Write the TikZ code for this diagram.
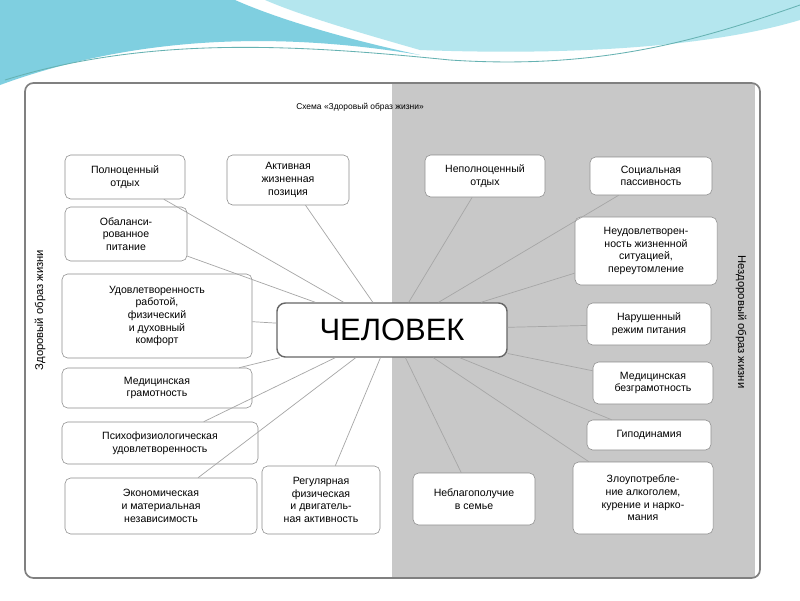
\documentclass[tikz,border=0pt]{standalone}
\usepackage{fontspec}
\setmainfont{Liberation Sans}
\definecolor{wave}{HTML}{7FCFE0}
\definecolor{wavelight}{HTML}{B4E6EE}
\definecolor{panelgray}{HTML}{C8C8C8}
\tikzset{
  box/.style={draw=black!45, fill=white, rounded corners=4pt, align=center, font=\fontsize{7.5}{9}\selectfont, inner sep=2pt},
  link/.style={draw=black!35, line width=0.5pt}
}
\begin{document}
\begin{tikzpicture}[x=0.025cm, y=-0.025cm]
\useasboundingbox (0,0) rectangle (800,600);
\fill[white] (0,0) rectangle (800,600);
% waves
\fill[wave] (0,0) -- (235,0) .. controls (280,20) and (350,40) .. (420,55) .. controls (300,35) and (150,30) .. (0,85) -- cycle;
\fill[wavelight] (265,0) -- (800,0) -- (800,20) .. controls (700,50) and (550,55) .. (420,50) .. controls (350,30) and (300,15) .. (265,0) -- cycle;
\draw[teal!60, line width=0.6pt] (5,80) .. controls (150,35) and (300,45) .. (450,60) .. controls (600,70) and (700,40) .. (800,5);
% panel
\fill[panelgray] (392,83) rectangle (755,578);
\draw[black!50, line width=1.2pt, rounded corners=6pt] (25,83) rectangle (760,578);
\node[font=\fontsize{6}{7}\selectfont] (title) at (360,107) {Схема «Здоровый образ жизни»};
\node[rotate=90, font=\fontsize{8}{9}\selectfont] (healthy) at (40,310) {Здоровый образ жизни};
\node[rotate=-90, font=\fontsize{8}{9}\selectfont] (unhealthy) at (741,322) {Нездоровый образ жизни};
% centre
\node[box, rounded corners=6pt, line width=1pt, draw=black!60, minimum width=5.75cm, minimum height=1.35cm, font=\fontsize{22}{24}\selectfont] (man) at (392,330) {ЧЕЛОВЕК};
% left side
\node[box, minimum width=3cm, minimum height=1.1cm] (rest) at (125,177) {Полноценный\\отдых};
\node[box, minimum width=3.05cm, minimum height=1.25cm] (active) at (288,180) {Активная\\жизненная\\позиция};
\node[box, minimum width=3.05cm, minimum height=1.35cm] (food) at (126,234) {Обаланси-\\рованное\\питание};
\node[box, minimum width=4.75cm, minimum height=2.1cm] (comfort) at (157,316) {Удовлетворенность\\работой,\\физический\\и духовный\\комфорт};
\node[box, minimum width=4.75cm, minimum height=1cm] (medic) at (157,388) {Медицинская\\грамотность};
\node[box, minimum width=4.9cm, minimum height=1.05cm] (psycho) at (160,443) {Психофизиологическая\\удовлетворенность};
\node[box, minimum width=4.8cm, minimum height=1.4cm] (econ) at (161,506) {Экономическая\\и материальная\\независимость};
\node[box, minimum width=2.95cm, minimum height=1.7cm] (sport) at (321,500) {Регулярная\\физическая\\и двигатель-\\ная активность};
% right side
\node[box, minimum width=3cm, minimum height=1.05cm] (badrest) at (485,176) {Неполноценный\\отдых};
\node[box, minimum width=3.05cm, minimum height=0.95cm] (passive) at (651,176) {Социальная\\пассивность};
\node[box, minimum width=3.55cm, minimum height=1.7cm] (stress) at (646,251) {Неудовлетворен-\\ность жизненной\\ситуацией,\\переутомление};
\node[box, minimum width=3.1cm, minimum height=1.05cm] (diet) at (649,324) {Нарушенный\\режим питания};
\node[box, minimum width=3cm, minimum height=1.05cm] (nomedic) at (653,383) {Медицинская\\безграмотность};
\node[box, minimum width=3.1cm, minimum height=0.75cm] (hypo) at (649,435) {Гиподинамия};
\node[box, minimum width=3.5cm, minimum height=1.8cm] (abuse) at (643,498) {Злоупотребле-\\ние алкоголем,\\курение и нарко-\\мания};
\node[box, minimum width=3.05cm, minimum height=1.3cm] (family) at (474,499) {Неблагополучие\\в семье};
% links
\foreach \n in {rest,active,food,comfort,medic,psycho,econ,sport,badrest,passive,stress,diet,nomedic,hypo,abuse,family}
  \draw[link] (man) -- (\n);
\end{tikzpicture}
\end{document}
